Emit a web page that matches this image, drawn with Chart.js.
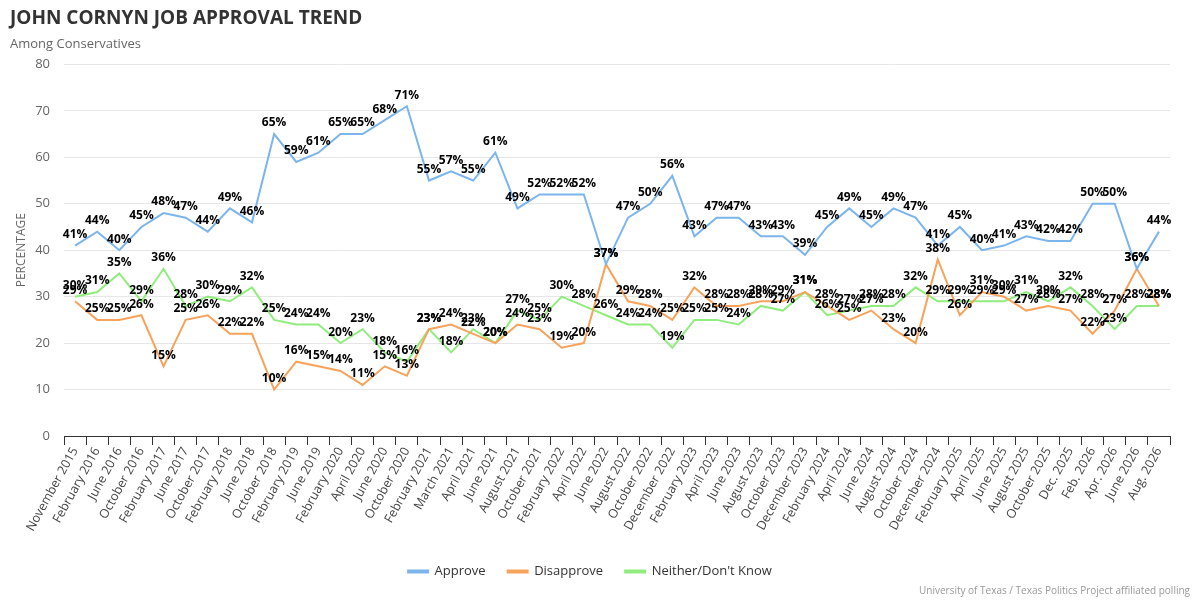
<!DOCTYPE html>
<html>
<head>
<meta charset="utf-8">
<script src="https://cdn.jsdelivr.net/npm/chart.js@4.4.1/dist/chart.umd.min.js"></script>
<style>
  html, body { margin: 0; padding: 0; background: #fff; }
  #wrap { position: relative; width: 1200px; height: 600px; }
  #credit {
    position: absolute; right: 10px; bottom: 3px;
    font: 10px "Open Sans", sans-serif; color: #999;
  }
</style>
</head>
<body>
<div id="wrap">
  <canvas id="chart" width="1200" height="600"></canvas>
  <div id="credit">University of Texas / Texas Politics Project affiliated polling</div>
</div>
<script>
// Poll dates (x categories)
const pollDates = [
  'November 2015', 'February 2016', 'June 2016', 'October 2016', 'February 2017',
  'June 2017', 'October 2017', 'February 2018', 'June 2018', 'October 2018',
  'February 2019', 'June 2019', 'February 2020', 'April 2020', 'June 2020',
  'October 2020', 'February 2021', 'March 2021', 'April 2021', 'June 2021',
  'August 2021', 'October 2021', 'February 2022', 'April 2022', 'June 2022',
  'August 2022', 'October 2022', 'December 2022', 'February 2023', 'April 2023',
  'June 2023', 'August 2023', 'October 2023', 'December 2023', 'February 2024',
  'April 2024', 'June 2024', 'August 2024', 'October 2024', 'December 2024',
  'February 2025', 'April 2025', 'June 2025', 'August 2025', 'October 2025',
  'Dec. 2025', 'Feb. 2026', 'Apr. 2026', 'June 2026', 'Aug. 2026'
];

// Series values (percent)
const approve = [
  41, 44, 40, 45, 48, 47, 44, 49, 46, 65,
  59, 61, 65, 65, 68, 71, 55, 57, 55, 61,
  49, 52, 52, 52, 37, 47, 50, 56, 43, 47,
  47, 43, 43, 39, 45, 49, 45, 49, 47, 41,
  45, 40, 41, 43, 42, 42, 50, 50, 36, 44
];
const disapprove = [
  29, 25, 25, 26, 15, 25, 26, 22, 22, 10,
  16, 15, 14, 11, 15, 13, 23, 24, 22, 20,
  24, 23, 19, 20, 37, 29, 28, 25, 32, 28,
  28, 29, 29, 31, 28, 25, 27, 23, 20, 38,
  26, 31, 30, 27, 28, 27, 22, 27, 36, 28
];
const neither = [
  30, 31, 35, 29, 36, 28, 30, 29, 32, 25,
  24, 24, 20, 23, 18, 16, 23, 18, 23, 20,
  27, 25, 30, 28, 26, 24, 24, 19, 25, 25,
  24, 28, 27, 31, 26, 27, 28, 28, 32, 29,
  29, 29, 29, 31, 29, 32, 28, 23, 28, 28
];

// y axis ticks
const yMin = 0;
const yMax = 80;
const yStep = 10;

const FONT = '"Open Sans", "Noto Sans", sans-serif';

// Draw the percent label above every point
const pointLabels = {
  id: 'pointLabels',
  afterDatasetsDraw(chart) {
    const ctx = chart.ctx;
    ctx.save();
    ctx.font = 'bold 12px ' + FONT;
    ctx.fillStyle = '#000';
    ctx.textAlign = 'center';
    ctx.textBaseline = 'bottom';
    chart.data.datasets.forEach((ds, i) => {
      const meta = chart.getDatasetMeta(i);
      meta.data.forEach((pt, j) => {
        ctx.fillText(ds.data[j] + '%', pt.x, pt.y - 5);
      });
    });
    ctx.restore();
  }
};

function series(label, data, color) {
  return {
    label: label,
    data: data,
    borderColor: color,
    backgroundColor: color,
    borderWidth: 2,
    pointRadius: 0,
    pointHoverRadius: 0,
    tension: 0,
    fill: false
  };
}

new Chart(document.getElementById('chart'), {
  type: 'line',
  data: {
    labels: pollDates,
    datasets: [
      series('Approve', approve, '#7cb5ec'),
      series('Disapprove', disapprove, '#f7a35c'),
      series('Neither/Don\'t Know', neither, '#90ed7d')
    ]
  },
  options: {
    responsive: false,
    animation: false,
    layout: { padding: { left: 10, right: 30, top: 0, bottom: 12 } },
    plugins: {
      title: {
        display: true,
        text: 'JOHN CORNYN JOB APPROVAL TREND',
        align: 'start',
        color: '#333',
        font: { family: FONT, size: 19, weight: 'bold' },
        padding: { top: 7, bottom: 4 }
      },
      subtitle: {
        display: true,
        text: 'Among Conservatives',
        align: 'start',
        color: '#666',
        font: { family: FONT, size: 13 },
        padding: { top: 3, bottom: 12 }
      },
      legend: {
        position: 'bottom',
        labels: {
          color: '#333',
          font: { family: FONT, size: 13 },
          boxWidth: 20,
          boxHeight: 2,
          padding: 22
        }
      },
      tooltip: { enabled: false }
    },
    scales: {
      x: {
        offset: true,
        grid: {
          offset: true,
          drawOnChartArea: false,
          drawTicks: true,
          tickLength: 9,
          color: '#333'
        },
        border: { display: true, color: '#333', width: 1 },
        ticks: {
          autoSkip: false,
          minRotation: 61,
          maxRotation: 61,
          color: '#444',
          padding: 0,
          font: { family: FONT, size: 12.5 }
        },
        afterFit(scale) { scale.height = 107; }
      },
      y: {
        min: yMin,
        max: yMax,
        ticks: {
          stepSize: yStep,
          color: '#666',
          padding: 14,
          font: { family: FONT, size: 13 }
        },
        grid: { color: '#e6e6e6', drawTicks: false },
        border: { display: false },
        title: {
          display: true,
          text: 'PERCENTAGE',
          color: '#666',
          font: { family: FONT, size: 12 },
          padding: { top: 4, bottom: 0 }
        },
        afterFit(scale) { scale.width = 54; }
      }
    }
  },
  plugins: [pointLabels]
});
</script>
</body>
</html>
